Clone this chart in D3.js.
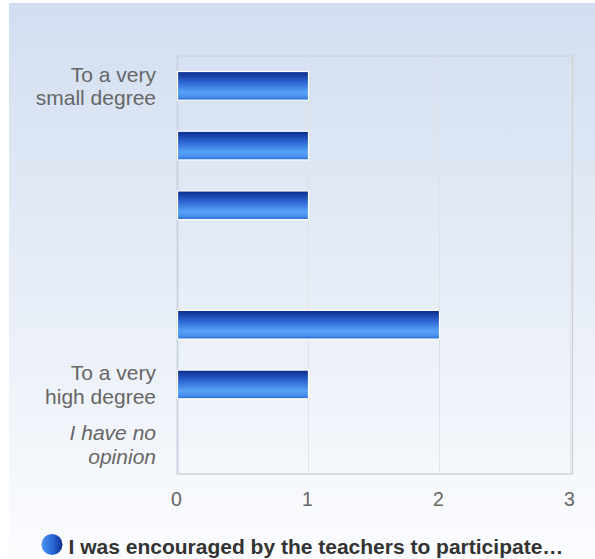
<!DOCTYPE html>
<html><head><meta charset="utf-8">
<script src="https://cdn.jsdelivr.net/npm/d3@7"></script>
<style>body{margin:0;padding:0;background:#fff}svg{display:block}</style>
</head><body><svg id="c" width="595" height="559"></svg>
<script>
const categories = ["To a very small degree", "c2", "c3", "c4", "c5", "To a very high degree", "I have no opinion"];
const labelLines = [["To a very", "small degree"], [], [], [], [], ["To a very", "high degree"], ["I have no", "opinion"]];
const values = [1, 1, 1, 0, 2, 1, 0];
const xTicks = [0, 1, 2, 3];
const seriesName = "I was encouraged by the teachers to participate…";

(function(){
const svg = d3.select("#c");
const defs = svg.append("defs");
const bg = defs.append("linearGradient").attr("id","bg").attr("x1",0).attr("y1",0).attr("x2",0).attr("y2",1);
bg.append("stop").attr("offset","0%").attr("stop-color","#d2def0");
bg.append("stop").attr("offset","100%").attr("stop-color","#fbfcfe");
const bar = defs.append("linearGradient").attr("id","bar").attr("x1",0).attr("y1",0).attr("x2",0).attr("y2",1);
bar.append("stop").attr("offset","0%").attr("stop-color","#0a2a8a");
bar.append("stop").attr("offset","35%").attr("stop-color","#2a62d0");
bar.append("stop").attr("offset","72%").attr("stop-color","#56a2f6");
bar.append("stop").attr("offset","88%").attr("stop-color","#4a90ee");
bar.append("stop").attr("offset","100%").attr("stop-color","#2468d6");
const lg = defs.append("linearGradient").attr("id","lg").attr("x1",0).attr("y1",0).attr("x2",1).attr("y2",0);
lg.append("stop").attr("offset","0%").attr("stop-color","#4a94f0");
lg.append("stop").attr("offset","55%").attr("stop-color","#2a66d8");
lg.append("stop").attr("offset","100%").attr("stop-color","#0c2c8c");

svg.append("rect").attr("x",9).attr("y",3).attr("width",586).attr("height",556).attr("fill","url(#bg)");

const pL = 177.5, pR = 570.5, pT = 56, pB = 474;
const x = d3.scaleLinear().domain([0,3]).range([pL,pR]);
const y = d3.scaleBand().domain(categories).range([pT,pB]).paddingInner(0.52).paddingOuter(0.26);

svg.append("rect").attr("x",pL).attr("y",pT).attr("width",572.5-pL).attr("height",pB-pT)
  .attr("fill","none").attr("stroke","#cfd3d8").attr("stroke-width",1.5);
svg.append("g").selectAll("line").data(xTicks.slice(1)).join("line")
  .attr("x1",d=>x(d)).attr("x2",d=>x(d)).attr("y1",pT).attr("y2",pB)
  .attr("stroke","#dfe3e8").attr("stroke-width",1);
svg.append("line").attr("x1",pL).attr("x2",pL).attr("y1",pT).attr("y2",pB)
  .attr("stroke","#c8d2e2").attr("stroke-width",1.5);

svg.append("g").selectAll("rect").data(values.map((v,i)=>({v,c:categories[i]})).filter(d=>d.v>0)).join("rect")
  .attr("x",x(0)).attr("y",d=>y(d.c))
  .attr("width",d=>x(d.v)-x(0)).attr("height",y.bandwidth())
  .attr("fill","url(#bar)").attr("stroke","#ffffff").attr("stroke-width",1.2);

const fam = "'Liberation Sans', Arial, sans-serif";
categories.forEach((c,i)=>{
  const lines = labelLines[i];
  if(!lines.length) return;
  const cy = y(c) + y.bandwidth()/2;
  const t = svg.append("text").attr("x",156).attr("text-anchor","end")
    .attr("font-family",fam).attr("font-size",21).attr("fill","#666666")
    .attr("font-style", i===6 ? "italic" : "normal");
  lines.forEach((l,k)=>{
    t.append("tspan").attr("x",156).attr("y",cy - 4 + k*23.5).text(l);
  });
});

svg.append("g").selectAll("text").data(xTicks).join("text")
  .attr("x",d=>x(d)-1).attr("y",505.5).attr("text-anchor","middle")
  .attr("font-family",fam).attr("font-size",19.5).attr("fill","#666666").text(d=>d);

svg.append("circle").attr("cx",52).attr("cy",544.5).attr("r",10.5).attr("fill","url(#lg)");
svg.append("text").attr("x",68.5).attr("y",554).attr("font-family",fam).attr("font-size",21)
  .attr("font-weight","bold").attr("fill","#333333").text(seriesName);
})();
</script></body></html>
